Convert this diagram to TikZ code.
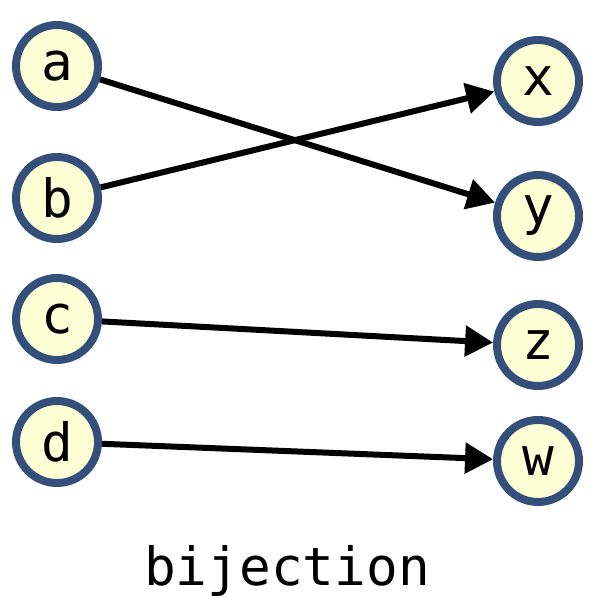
\documentclass[tikz,border=0pt]{standalone}
\usepackage{fontspec}
\setmainfont{DejaVu Sans Mono}
\usetikzlibrary{arrows.meta}

\definecolor{ringblue}{RGB}{52,80,122}
\definecolor{nodefill}{RGB}{255,255,213}

\begin{document}
\begin{tikzpicture}[x=0.02cm, y=-0.02cm,
    elem/.style={draw=ringblue, fill=nodefill, circle, minimum size=1.64cm,
        line width=0.16cm, inner sep=0pt, font=\fontsize{30}{36}\selectfont},
    mapsto/.style={line width=0.12cm, -{Triangle[length=0.56cm, width=0.6cm]}}]
    %--------------------%
    % Parameters
    %--------------------%
    \def\leftx{57}
    \def\rightx{538}

    \useasboundingbox (0,0) rectangle (599,601);

    %--------------------%
    % Domain
    %--------------------%
    \node[elem] (a) at (\leftx,66) {a};
    \node[elem] (b) at (\leftx,198) {b};
    \node[elem] (c) at (\leftx,319) {c};
    \node[elem] (d) at (\leftx,442) {d};

    %--------------------%
    % Codomain
    %--------------------%
    \node[elem] (x) at (\rightx,81) {x};
    \node[elem] (y) at (\rightx,216) {y};
    \node[elem] (z) at (\rightx,345) {z};
    \node[elem] (w) at (\rightx,461) {w};

    %--------------------%
    % Connections
    %--------------------%
    \draw[mapsto] (a) -- (y);
    \draw[mapsto] (b) -- (x);
    \draw[mapsto] (c) -- (z);
    \draw[mapsto] (d) -- (w);

    %--------------------%
    % Label
    %--------------------%
    \node[anchor=base, font=\fontsize{30}{36}\selectfont] (caption) at (287,585) {bijection};
\end{tikzpicture}
\end{document}
